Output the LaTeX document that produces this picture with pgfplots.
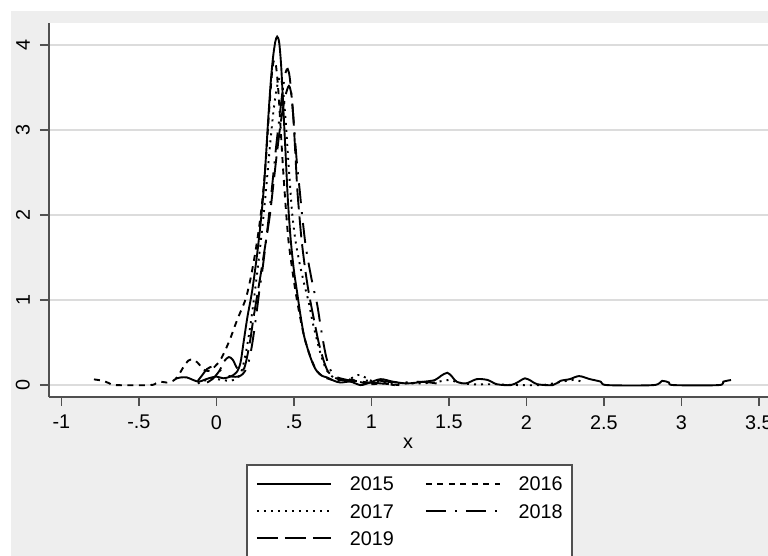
\documentclass[border=0pt]{standalone}
\usepackage{fontspec}
\setmainfont{Liberation Sans}
\usepackage{pgfplots}
\pgfplotsset{compat=1.18}
\definecolor{bgGray}{HTML}{EEEEEE}
\definecolor{axGray}{HTML}{505050}
\definecolor{gridGray}{HTML}{DCDCDC}
\newcommand{\statafont}{\fontsize{19.8pt}{23pt}\selectfont}

\begin{document}
\begin{tikzpicture}
\useasboundingbox (0,0) rectangle (768pt,556pt);
\clip (0,0) rectangle (768pt,556pt);
\fill[bgGray] (11pt,0pt) rectangle (768pt,545pt);
\begin{axis}[
  scale only axis, width=733.15pt, height=374pt,
  at={(49pt,159pt)}, anchor=south west,
  xmin=-1.08, xmax=3.65, ymin=-0.14, ymax=4.26,
  axis background/.style={fill=white},
  axis lines*=left,
  axis line style={draw=axGray, line width=1.8pt, -},
  xtick={-1,-0.5,0,0.5,1,1.5,2,2.5,3,3.5},
  xticklabels={-1,-.5,0,.5,1,1.5,2,2.5,3,3.5},
  ytick={0,1,2,3,4},
  yticklabels={0,1,2,3,4},
  tick align=outside,
  major tick length=9pt,
  tick style={draw=axGray, line width=1.5pt},
  ymajorgrids, grid style={draw=gridGray, line width=1.5pt},
  tick label style={font=\statafont, text=black},
  x tick label style={inner sep=0pt, yshift=-9pt},
  y tick label style={rotate=90, anchor=south, inner sep=0pt, inner ysep=10pt},
  xlabel={x},
  xlabel style={font=\statafont, at={(axis description cs:0.4897,-0.124)}, anchor=center, inner sep=0pt},
  legend columns=2,
  legend cell align=left,
  legend image code/.code={\draw[#1] (0pt,0pt) -- (74pt,0pt);},
  legend style={at={(axis description cs:0.2687,-0.1791)}, anchor=north west,
    font=\statafont, draw=axGray, line width=1.7pt, fill=white,
    inner xsep=9pt, inner ysep=12pt, row sep=13.3pt, column sep=18pt,
    /tikz/every even column/.append style={column sep=31pt},
    nodes={inner sep=0pt, text height=14pt, text depth=0pt}},
]
%% 2015 solid
\addplot[black, line width=1.9pt, smooth, tension=0.5] coordinates {
(-0.265,0.075) (-0.23,0.09) (-0.19,0.09) (-0.15,0.06) (-0.114,0.04) (-0.08,0.06)
(-0.05,0.08) (0.0,0.1) (0.045,0.08) (0.09,0.1) (0.13,0.15) (0.155,0.26) (0.175,0.5)
(0.2,0.8) (0.23,1.1) (0.26,1.5) (0.285,1.9) (0.305,2.3) (0.32,2.7) (0.335,3.15)
(0.35,3.55) (0.365,3.85) (0.38,4.04) (0.392,4.1) (0.405,4.03) (0.418,3.75) (0.432,3.25)
(0.447,2.7) (0.462,2.15) (0.48,1.7) (0.5,1.35) (0.52,1.1) (0.54,0.85) (0.563,0.6)
(0.585,0.45) (0.606,0.33) (0.63,0.22) (0.65,0.16) (0.68,0.11) (0.714,0.09) (0.76,0.05)
(0.8,0.03) (0.865,0.04) (0.93,0.0) (0.99,0.03) (1.06,0.07) (1.14,0.04) (1.23,0.02)
(1.34,0.04) (1.41,0.06) (1.45,0.11) (1.49,0.145) (1.52,0.1) (1.55,0.04) (1.61,0.02)
(1.68,0.07) (1.75,0.06) (1.81,0.01) (1.9,0.0) (1.95,0.04) (1.99,0.08) (2.03,0.05)
(2.07,0.01) (2.17,0.0) (2.22,0.05) (2.28,0.07) (2.34,0.106) (2.41,0.07) (2.48,0.04)
(2.52,0.0) (2.82,0.0) (2.875,0.05) (2.92,0.03) (2.95,0.0) (3.24,0.0) (3.27,0.04) (3.32,0.06)
};
\addlegendentry{2015}
%% 2016 dashed
\addplot[black, line width=1.9pt, smooth, tension=0.5, dash pattern=on 6pt off 5.5pt] coordinates {
(-0.79,0.067) (-0.73,0.05) (-0.69,0.02) (-0.65,0.0) (-0.43,0.0) (-0.39,0.02) (-0.36,0.04)
(-0.32,0.03) (-0.28,0.05) (-0.25,0.1) (-0.21,0.22) (-0.18,0.29) (-0.15,0.3) (-0.125,0.27)
(-0.09,0.2) (-0.07,0.17) (-0.04,0.17) (-0.02,0.2) (0.02,0.28) (0.05,0.38) (0.09,0.55)
(0.12,0.7) (0.155,0.86) (0.19,1.02) (0.22,1.25) (0.25,1.55) (0.275,1.85) (0.295,2.15)
(0.315,2.55) (0.33,2.95) (0.345,3.35) (0.36,3.7) (0.372,3.82) (0.385,3.75) (0.4,3.45)
(0.415,3.0) (0.43,2.55) (0.447,2.1) (0.465,1.7) (0.49,1.35) (0.515,1.05) (0.54,0.8)
(0.565,0.58) (0.59,0.42) (0.62,0.27) (0.65,0.16) (0.69,0.1) (0.73,0.07) (0.78,0.05)
(0.83,0.07) (0.88,0.06) (0.94,0.03) (1.0,0.01) (1.06,0.02) (1.12,0.01) (1.18,0.0)
};
\addlegendentry{2016}
%% 2017 dotted
\addplot[black, line width=1.9pt, smooth, tension=0.5, dash pattern=on 2pt off 5pt] coordinates {
(-0.12,0.02) (-0.08,0.05) (-0.04,0.07) (0.0,0.07) (0.04,0.06) (0.08,0.05) (0.11,0.06)
(0.14,0.09) (0.165,0.18) (0.19,0.38) (0.215,0.65) (0.24,0.98) (0.265,1.35) (0.29,1.75)
(0.31,2.1) (0.33,2.5) (0.35,2.9) (0.37,3.25) (0.39,3.5) (0.41,3.62) (0.428,3.5)
(0.445,3.15) (0.46,2.75) (0.475,2.35) (0.49,2.0) (0.51,1.7) (0.535,1.45) (0.565,1.2)
(0.595,0.98) (0.62,0.75) (0.65,0.52) (0.68,0.32) (0.71,0.18) (0.74,0.11) (0.78,0.07)
(0.83,0.06) (0.87,0.08) (0.9,0.11) (0.93,0.12) (0.96,0.09) (1.0,0.05) (1.08,0.03)
(1.2,0.02) (1.3,0.02) (1.4,0.03) (1.5,0.06) (1.56,0.03) (1.65,0.01) (1.8,0.01)
(1.95,0.0) (2.1,0.0) (2.2,0.03) (2.3,0.06) (2.36,0.04)
};
\addlegendentry{2017}
%% 2018 dash-dot
\addplot[black, line width=1.9pt, smooth, tension=0.5, dash pattern=on 20pt off 9pt on 2pt off 9pt] coordinates {
(-0.12,0.05) (-0.09,0.12) (-0.06,0.19) (-0.02,0.22) (0.02,0.18) (0.06,0.12) (0.1,0.1)
(0.14,0.1) (0.17,0.13) (0.2,0.22) (0.225,0.42) (0.25,0.72) (0.275,1.08) (0.3,1.4)
(0.33,1.85) (0.36,2.35) (0.385,2.8) (0.41,3.2) (0.43,3.5) (0.447,3.68) (0.46,3.72)
(0.473,3.62) (0.49,3.3) (0.505,2.95) (0.52,2.6) (0.537,2.3) (0.553,2.0) (0.575,1.65)
(0.6,1.38) (0.625,1.15) (0.65,0.95) (0.67,0.72) (0.69,0.5) (0.71,0.32) (0.735,0.18)
(0.77,0.1) (0.82,0.07) (0.88,0.05) (0.95,0.05) (1.02,0.06) (1.1,0.04) (1.2,0.03)
(1.3,0.04) (1.38,0.03) (1.45,0.01)
};
\addlegendentry{2018}
%% 2019 long dash
\addplot[black, line width=1.9pt, smooth, tension=0.5, dash pattern=on 21pt off 7pt] coordinates {
(-0.06,0.03) (-0.02,0.08) (0.02,0.17) (0.05,0.28) (0.08,0.33) (0.105,0.3) (0.13,0.21)
(0.155,0.16) (0.18,0.2) (0.2,0.35) (0.22,0.55) (0.24,0.8) (0.26,1.02) (0.29,1.35)
(0.32,1.7) (0.345,2.0) (0.37,2.4) (0.395,2.8) (0.42,3.15) (0.445,3.4) (0.468,3.52)
(0.485,3.4) (0.498,3.1) (0.51,2.7) (0.522,2.3) (0.535,2.0) (0.55,1.7) (0.57,1.4)
(0.59,1.15) (0.61,0.95) (0.635,0.72) (0.66,0.5) (0.69,0.3) (0.72,0.16) (0.76,0.09)
(0.82,0.06) (0.9,0.05) (0.98,0.03) (1.06,0.02) (1.15,0.0)
};
\addlegendentry{2019}
\end{axis}
\end{tikzpicture}
\end{document}
